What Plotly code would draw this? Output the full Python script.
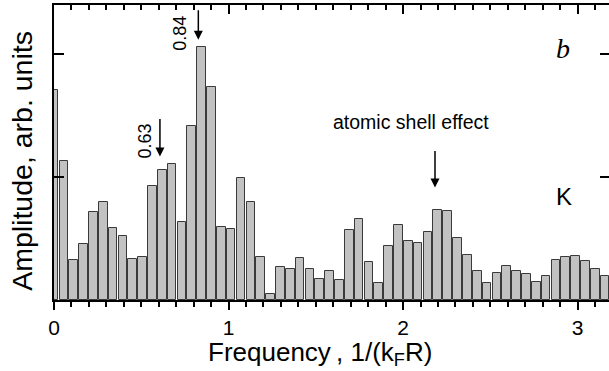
import plotly.graph_objects as go

# Bin spacing on the frequency axis (1/(k_F R))
step = 0.05639
amplitudes = [1.711, 1.134, 0.329, 0.455, 0.720, 0.800, 0.587, 0.518, 0.335, 0.351,
              0.925, 1.059, 1.107, 0.637, 1.416, 2.059, 1.730, 0.595, 0.575, 0.994,
              0.797, 0.347, 0.049, 0.267, 0.254, 0.339, 0.254, 0.168, 0.236, 0.164,
              0.571, 0.659, 0.311, 0.137, 0.437, 0.610, 0.482, 0.463, 0.554, 0.733,
              0.725, 0.507, 0.367, 0.232, 0.138, 0.221, 0.279, 0.237, 0.211, 0.144,
              0.197, 0.327, 0.351, 0.359, 0.319, 0.252, 0.193]
frequencies = [i * step for i in range(len(amplitudes))]

x_ticks = [0, 1, 2, 3]
x_tick_labels = ["0", "1", "2", "3"]

SANS = "Liberation Sans, Arial, sans-serif"

fig = go.Figure()
fig.add_trace(go.Bar(
    x=frequencies, y=amplitudes, width=step * 0.88,
    marker=dict(color="#c2c2c2", line=dict(color="#3a3a3a", width=1)),
    showlegend=False, hoverinfo="skip"))
# invisible helper traces so the mirrored top / right axes are drawn
fig.add_trace(go.Scatter(x=[0], y=[0], xaxis="x2", yaxis="y", mode="markers",
                         marker=dict(opacity=0), showlegend=False, hoverinfo="skip"))
fig.add_trace(go.Scatter(x=[0], y=[0], xaxis="x", yaxis="y2", mode="markers",
                         marker=dict(opacity=0), showlegend=False, hoverinfo="skip"))

xr = [0, 3.18]
yr = [0, 2.40]

fig.update_layout(
    width=609, height=371, autosize=False,
    margin=dict(l=54, r=0, t=5, b=71),
    plot_bgcolor="white", paper_bgcolor="white",
    bargap=0,
    xaxis=dict(range=xr, tickvals=x_ticks, ticktext=x_tick_labels,
               ticks="outside", ticklen=8, tickwidth=2, tickcolor="black",
               minor=dict(dtick=0.1, tick0=0, ticks="outside", ticklen=5, tickwidth=2, tickcolor="black"),
               showline=True, linecolor="black", linewidth=2, showgrid=False, zeroline=False,
               tickfont=dict(family=SANS, size=21, color="black")),
    xaxis2=dict(range=xr, overlaying="x", side="top", tickvals=x_ticks, showticklabels=False,
                ticks="inside", ticklen=9, tickwidth=2, tickcolor="black",
                minor=dict(dtick=0.1, tick0=0, ticks="inside", ticklen=5, tickwidth=2, tickcolor="black"),
                showline=True, linecolor="black", linewidth=2, showgrid=False, zeroline=False),
    yaxis=dict(range=yr, tickvals=[1, 2], showticklabels=False,
               ticks="inside", ticklen=10, tickwidth=2, tickcolor="black",
               showline=True, linecolor="black", linewidth=2, showgrid=False, zeroline=False),
    yaxis2=dict(range=yr, overlaying="y", side="right", tickvals=[1, 2], showticklabels=False,
                ticks="inside", ticklen=9, tickwidth=2, tickcolor="black",
                showline=False, showgrid=False, zeroline=False),
)

# axis titles placed as annotations to match their offsets in the reference
fig.add_annotation(xref="paper", yref="paper", x=0.479, y=-0.181, xanchor="center", yanchor="middle",
                   text="Frequency\u2009, 1/(k<sub>F</sub>R)", showarrow=False,
                   font=dict(family=SANS, size=26, color="black"))
fig.add_annotation(xref="paper", yref="paper", x=-0.057, y=0.473, xanchor="center", yanchor="middle",
                   text="Amplitude, arb. units", textangle=-90, showarrow=False,
                   font=dict(family=SANS, size=28.5, color="black"))

arrow = dict(showarrow=True, arrowhead=2, arrowsize=1.2, arrowwidth=1.5, arrowcolor="black",
             axref="x", ayref="y", text="")
fig.add_annotation(x=0.827, y=2.118, ax=0.827, ay=2.37, **arrow)
fig.add_annotation(x=0.607, y=1.167, ax=0.607, ay=1.484, **arrow)
fig.add_annotation(x=2.183, y=0.915, ax=2.183, ay=1.224, **arrow)

fig.add_annotation(x=0.722, y=2.167, text="0.84", textangle=-90, showarrow=False,
                   font=dict(family=SANS, size=18, color="black"))
fig.add_annotation(x=0.521, y=1.297, text="0.63", textangle=-90, showarrow=False,
                   font=dict(family=SANS, size=18, color="black"))
fig.add_annotation(x=2.046, y=1.445, text="atomic shell effect", showarrow=False,
                   font=dict(family=SANS, size=19.5, color="black"))
fig.add_annotation(x=2.92, y=0.84, text="K", showarrow=False,
                   font=dict(family=SANS, size=24, color="black"))
fig.add_annotation(x=2.915, y=2.05, text="<i>b</i>", showarrow=False,
                   font=dict(family="Liberation Serif, Times New Roman, serif", size=28, color="black"))

fig.write_html("out.html")
